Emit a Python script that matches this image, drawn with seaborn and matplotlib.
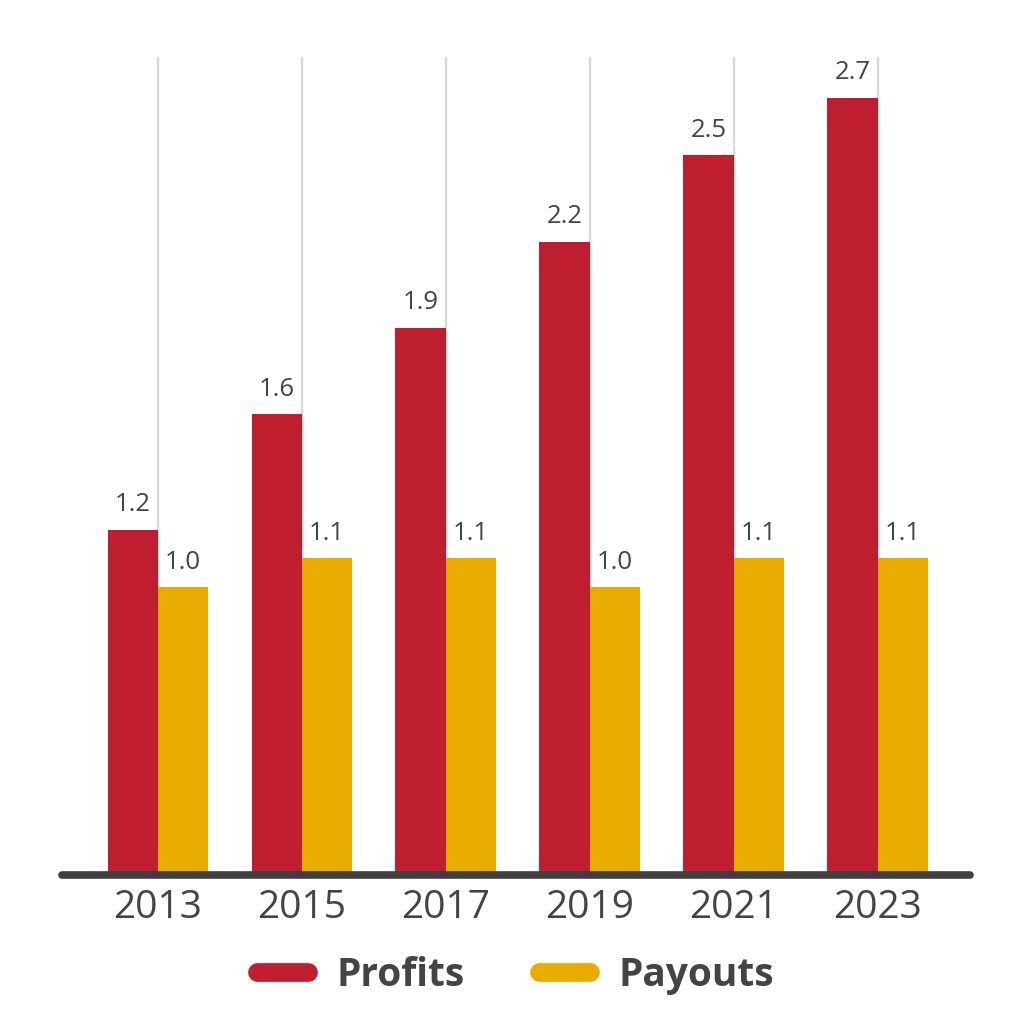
import pandas as pd
import matplotlib
matplotlib.use("Agg")
import matplotlib.pyplot as plt
import seaborn as sns
from matplotlib.lines import Line2D

# ---- dados ----
anos = ["2013", "2015", "2017", "2019", "2021", "2023"]
profits = [1.2, 1.6, 1.9, 2.2, 2.5, 2.7]
payouts = [1.0, 1.1, 1.1, 1.0, 1.1, 1.1]
series = ["Profits", "Payouts"]
cores = {"Profits": "#BE1E2D", "Payouts": "#E9AC00"}

df = pd.DataFrame({
    "Ano": anos * 2,
    "Valor": profits + payouts,
    "Serie": [series[0]] * len(anos) + [series[1]] * len(anos),
})

sns.set_theme(style="white")
plt.rcParams["font.family"] = ["Open Sans", "DejaVu Sans"]
TXT = "#444444"

fig = plt.figure(figsize=(10.24, 10.24), dpi=100)
ax = fig.add_axes([0.0605, 0.1455, 0.8865, 0.7985])

sns.barplot(data=df, x="Ano", y="Valor", hue="Serie", order=anos,
            hue_order=series, palette=cores, width=0.7, linewidth=0,
            saturation=1, legend=False, ax=ax, zorder=3)

for cont in ax.containers:
    ax.bar_label(cont, fmt="%.1f", padding=9, fontsize=18.5, color=TXT)

ax.set_ylim(0, 2.84)
ax.set_xlim(-0.667, 5.64)
ax.set_xlabel("")
ax.set_ylabel("")
ax.set_yticks([])
ax.grid(axis="x", color="#d9d9d9", lw=1.6, zorder=1)
ax.tick_params(axis="x", length=0, pad=10, labelsize=28, labelcolor=TXT)
for s in ax.spines.values():
    s.set_visible(False)

# linha de base
ax.axhline(0, color="#404040", lw=5.5, solid_capstyle="round", clip_on=False, zorder=4)

# legenda
handles = [Line2D([0], [0], color=cores[s], lw=13.5, solid_capstyle="round") for s in series]
leg = ax.legend(handles, series, loc="center", bbox_to_anchor=(0.5, -0.123),
                ncol=2, frameon=False, handlelength=1.3, handletextpad=0.75,
                columnspacing=1.9, prop={"size": 28, "weight": "bold"})
for t in leg.get_texts():
    t.set_color(TXT)

fig.savefig("out.png", dpi=100)
